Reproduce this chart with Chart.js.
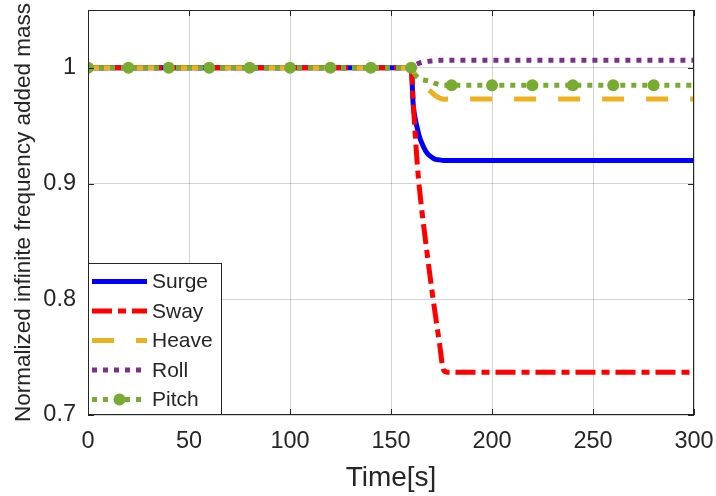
<!DOCTYPE html>
<html>
<head>
<meta charset="utf-8">
<script src="https://cdn.jsdelivr.net/npm/chart.js@4.4.1/dist/chart.umd.min.js"></script>
<style>
  html, body { margin: 0; padding: 0; background: #fff; }
  #wrap { width: 716px; height: 496px; }
</style>
</head>
<body>
<div id="wrap"><canvas id="chart" width="716" height="496"></canvas></div>
<script>
// ─── DATA ─────────────────────────────────────────────────────────────────
const time  = [0, 20, 40, 60, 80, 100, 120, 140, 160, 161, 162, 163, 164, 166, 168, 170, 172, 174, 176, 178, 180, 200, 220, 240, 260, 280, 300];
const surge = [1, 1, 1, 1, 1, 1, 1, 1, 1, 0.968, 0.956, 0.948, 0.941, 0.932, 0.926, 0.923, 0.921, 0.9205, 0.920, 0.920, 0.920, 0.920, 0.920, 0.920, 0.920, 0.920, 0.920];
const sway  = [1, 1, 1, 1, 1, 1, 1, 1, 1, 0.970, 0.942, 0.917, 0.897, 0.866, 0.838, 0.811, 0.786, 0.762, 0.739, 0.737, 0.737, 0.737, 0.737, 0.737, 0.737, 0.737, 0.737];
const heave = [1, 1, 1, 1, 1, 1, 1, 1, 1, 0.997, 0.994, 0.991, 0.989, 0.985, 0.982, 0.979, 0.976, 0.974, 0.9728, 0.973, 0.973, 0.973, 0.973, 0.973, 0.973, 0.973, 0.973];
const roll  = [1, 1, 1, 1, 1, 1, 1, 1, 1, 1.0015, 1.0025, 1.0033, 1.004, 1.005, 1.0056, 1.006, 1.0063, 1.0065, 1.0066, 1.0066, 1.0066, 1.0066, 1.0066, 1.0066, 1.0066, 1.0066, 1.0066];
const pitch = [1, 1, 1, 1, 1, 1, 1, 1, 1, 0.9965, 0.994, 0.992, 0.9905, 0.9895, 0.989, 0.988, 0.9865, 0.9855, 0.985, 0.985, 0.985, 0.985, 0.985, 0.985, 0.985, 0.985, 0.985];

const xTicks = [0, 50, 100, 150, 200, 250, 300];
const yTicks = [0.7, 0.8, 0.9, 1];
const names  = ['Surge', 'Sway', 'Heave', 'Roll', 'Pitch'];

// ─── STYLE ────────────────────────────────────────────────────────────────
const FONT   = "'Liberation Sans', Arial, Helvetica, sans-serif";
const INK    = '#262626';
const GRID   = 'rgba(0,0,0,0.17)';
const colors = ['#0000ff', '#ff0000', '#edb120', '#7e2f8e', '#77ac30'];
const dashes = [[], [20, 6, 8, 6], [22, 22], [5, 6], [5, 6]];

const pts = vals => time.map((t, i) => ({ x: t, y: vals[i] }));
const isMarker = i => time[i] % 20 === 0 && time[i] < 300;

const datasets = [surge, sway, heave, roll, pitch].map((vals, k) => ({
  label: names[k],
  data: pts(vals),
  borderColor: colors[k],
  backgroundColor: colors[k],
  borderWidth: 5,
  borderDash: dashes[k],
  borderCapStyle: 'butt',
  borderJoinStyle: 'round',
  cubicInterpolationMode: 'monotone',
  pointRadius: k === 4 ? ctx => (isMarker(ctx.dataIndex) ? 6 : 0) : 0,
  pointBorderWidth: 0,
  pointHoverRadius: 0,
  order: 4 - k,
}));

// caixa dos eixos, ticks internos e legenda (estilo MATLAB)
const matlabAxes = {
  id: 'matlabAxes',
  afterDraw(chart) {
    const { ctx, chartArea: a, scales } = chart;
    const tl = 6;
    ctx.save();
    ctx.strokeStyle = INK;
    ctx.lineWidth = 1;
    ctx.strokeRect(a.left + 0.5, a.top + 0.5, a.right - a.left - 1, a.bottom - a.top - 1);
    ctx.beginPath();
    for (const v of xTicks) {
      const x = Math.round(scales.x.getPixelForValue(v)) + 0.5;
      ctx.moveTo(x, a.bottom); ctx.lineTo(x, a.bottom - tl);
      ctx.moveTo(x, a.top);    ctx.lineTo(x, a.top + tl);
    }
    for (const v of yTicks) {
      const y = Math.round(scales.y.getPixelForValue(v)) + 0.5;
      ctx.moveTo(a.left, y);  ctx.lineTo(a.left + tl, y);
      ctx.moveTo(a.right, y); ctx.lineTo(a.right - tl, y);
    }
    ctx.stroke();

    // legenda
    const box = { l: a.left, t: 263, r: 222, b: a.bottom };
    ctx.fillStyle = '#fff';
    ctx.fillRect(box.l, box.t, box.r - box.l, box.b - box.t);
    ctx.strokeRect(box.l + 0.5, box.t + 0.5, box.r - box.l - 1, box.b - box.t - 1);
    const rowY = [281.5, 311, 340.5, 370, 399.5];
    ctx.font = `21px ${FONT}`;
    ctx.textBaseline = 'middle';
    names.forEach((name, k) => {
      const y = rowY[k];
      ctx.strokeStyle = colors[k];
      ctx.lineWidth = 5;
      ctx.lineCap = 'butt';
      ctx.setLineDash(dashes[k]);
      ctx.beginPath();
      ctx.moveTo(92, y); ctx.lineTo(147, y);
      ctx.stroke();
      ctx.setLineDash([]);
      if (k === 4) {
        ctx.fillStyle = colors[k];
        ctx.beginPath();
        ctx.arc(119.5, y, 6, 0, Math.PI * 2);
        ctx.fill();
      }
      ctx.fillStyle = INK;
      ctx.fillText(name, 152, y + 1);
    });
    ctx.restore();
  },
};

new Chart(document.getElementById('chart'), {
  type: 'line',
  data: { datasets },
  options: {
    responsive: false,
    animation: false,
    events: [],
    layout: { padding: { top: 10, right: 22, left: 0, bottom: 0 } },
    plugins: { legend: { display: false }, tooltip: { enabled: false } },
    scales: {
      x: {
        type: 'linear',
        min: 0, max: 300,
        afterBuildTicks: s => { s.ticks = xTicks.map(v => ({ value: v })); },
        afterFit: s => { s.height = 81; s.paddingLeft = 0; s.paddingRight = 0; },
        grid: { color: GRID, drawTicks: false },
        border: { display: false },
        ticks: { color: INK, font: { family: FONT, size: 23.5 }, padding: 12, maxRotation: 0, autoSkip: false },
        title: { display: true, text: 'Time[s]', color: INK, font: { family: FONT, size: 28 }, padding: { top: 0, bottom: 1 } },
      },
      y: {
        type: 'linear',
        min: 0.7, max: 1.05,
        afterBuildTicks: s => { s.ticks = yTicks.map(v => ({ value: v })); },
        afterFit: s => { s.width = 88; s.paddingTop = 0; s.paddingBottom = 0; },
        grid: { color: GRID, drawTicks: false },
        border: { display: false },
        ticks: {
          color: INK, font: { family: FONT, size: 23.5 }, padding: 12,
          callback: v => (v === 1 ? '1' : v.toFixed(1)),
        },
        title: { display: true, text: 'Normalized infinite frequency added mass', color: INK, font: { family: FONT, size: 22.5 }, padding: { top: 10, bottom: 0 } },
      },
    },
  },
  plugins: [matlabAxes],
});
</script>
</body>
</html>
